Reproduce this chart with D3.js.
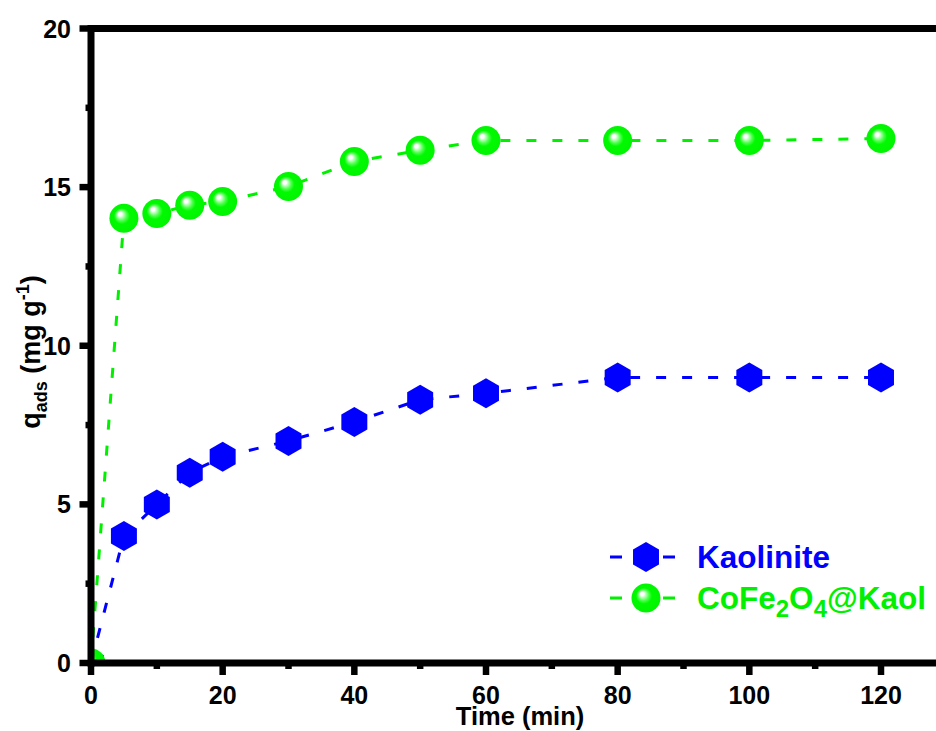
<!DOCTYPE html>
<html><head><meta charset="utf-8">
<script src="https://cdn.jsdelivr.net/npm/d3@7"></script>
<style>body{margin:0;background:#fff}svg{display:block}text{font-family:Arial,"Liberation Sans",sans-serif;font-weight:bold}</style>
</head><body><svg id="c" width="936" height="731"></svg>
<script>
const time = [0, 5, 10, 15, 20, 30, 40, 50, 60, 80, 100, 120];
const kaolinite = [0, 4.0, 5.0, 6.0, 6.5, 7.0, 7.6, 8.3, 8.5, 9.0, 9.0, 9.0];
const cofe = [0, 14.02, 14.17, 14.43, 14.55, 15.02, 15.81, 16.16, 16.47, 16.47, 16.47, 16.53];
const xTicks = [0, 20, 40, 60, 80, 100, 120];
const yTicks = [0, 5, 10, 15, 20];
const seriesNames = ["Kaolinite", "CoFe2O4@Kaol"];

const svg = d3.select("#c");
const x = d3.scaleLinear().domain([0, 130]).range([91, 91 + 130 * 790 / 120]);
const y = d3.scaleLinear().domain([0, 20]).range([663, 28.5]);

const defs = svg.append("defs");
const g = defs.append("radialGradient").attr("id", "sph").attr("cx", "50%").attr("cy", "50%").attr("r", "50%")
  .attr("fx", "35%").attr("fy", "34%");
g.append("stop").attr("offset", "0%").attr("stop-color", "#ffffff");
g.append("stop").attr("offset", "12%").attr("stop-color", "#ffffff");
g.append("stop").attr("offset", "22%").attr("stop-color", "#b8ffb8");
g.append("stop").attr("offset", "38%").attr("stop-color", "#4dff4d");
g.append("stop").attr("offset", "55%").attr("stop-color", "#00fa00");
g.append("stop").attr("offset", "100%").attr("stop-color", "#00f500");
defs.append("clipPath").attr("id", "clip").append("rect")
  .attr("x", x(0)).attr("y", y(20)).attr("width", 936 - x(0)).attr("height", y(0) - y(20));

const BLUE = "#0000ff", GREEN = "#00f000";
function hexPath(r) {
  const pts = d3.range(6).map(i => { const a = (-90 + 60 * i) * Math.PI / 180; return [r * Math.cos(a), r * Math.sin(a)]; });
  return "M" + pts.map(p => p.join(",")).join("L") + "Z";
}

const plot = svg.append("g").attr("clip-path", "url(#clip)");
const line = d3.line().x(d => x(d[0])).y(d => y(d[1]));
const kData = time.map((t, i) => [t, kaolinite[i]]);
const cData = time.map((t, i) => [t, cofe[i]]);

plot.append("path").attr("d", line(kData)).attr("fill", "none").attr("stroke", BLUE)
  .attr("stroke-width", 3).attr("stroke-dasharray", "10,16");
plot.append("path").attr("d", line(cData)).attr("fill", "none").attr("stroke", GREEN)
  .attr("stroke-width", 3).attr("stroke-dasharray", "10,16");
plot.selectAll(".hx").data(kData).enter().append("path")
  .attr("transform", d => `translate(${x(d[0])},${y(d[1])})`).attr("d", hexPath(15)).attr("fill", BLUE);
plot.selectAll(".sp").data(cData).enter().append("circle")
  .attr("cx", d => x(d[0])).attr("cy", d => y(d[1])).attr("r", 14.5).attr("fill", "url(#sph)");

// axes frame
const ax = svg.append("g");
ax.append("line").attr("x1", 88).attr("x2", 936).attr("y1", y(0)).attr("y2", y(0)).attr("stroke", "#000").attr("stroke-width", 7);
ax.append("line").attr("x1", 88).attr("x2", 936).attr("y1", y(20)).attr("y2", y(20)).attr("stroke", "#000").attr("stroke-width", 7);
ax.append("line").attr("x1", x(0)).attr("x2", x(0)).attr("y1", y(20) - 3.5).attr("y2", y(0) + 3.5).attr("stroke", "#000").attr("stroke-width", 7);

// x ticks
xTicks.forEach(t => {
  ax.append("line").attr("x1", x(t)).attr("x2", x(t)).attr("y1", y(0)).attr("y2", y(0) + 12).attr("stroke", "#000").attr("stroke-width", 6.5);
  ax.append("text").attr("x", x(t)).attr("y", 704).attr("text-anchor", "middle").attr("font-size", 25).text(t);
});
d3.range(10, 130, 20).forEach(t => {
  ax.append("line").attr("x1", x(t)).attr("x2", x(t)).attr("y1", y(0)).attr("y2", y(0) + 6).attr("stroke", "#000").attr("stroke-width", 6.5);
});
yTicks.forEach(t => {
  ax.append("line").attr("x1", x(0)).attr("x2", x(0) - 11.5).attr("y1", y(t)).attr("y2", y(t)).attr("stroke", "#000").attr("stroke-width", 6.5);
  ax.append("text").attr("x", 71).attr("y", y(t) + 9).attr("text-anchor", "end").attr("font-size", 25).text(t);
});
d3.range(2.5, 20, 5).forEach(t => {
  ax.append("line").attr("x1", x(0)).attr("x2", x(0) - 5.5).attr("y1", y(t)).attr("y2", y(t)).attr("stroke", "#000").attr("stroke-width", 6.5);
});

// axis titles
svg.append("text").attr("x", 520).attr("y", 725).attr("text-anchor", "middle").attr("font-size", 25.5).text("Time (min)");
const yt = svg.append("text").attr("transform", "translate(40,352) rotate(-90)").attr("text-anchor", "middle").attr("font-size", 27);
yt.append("tspan").text("q");
yt.append("tspan").attr("font-size", 18).attr("dy", 7).text("ads");
yt.append("tspan").attr("dy", -7).text(" (mg g");
yt.append("tspan").attr("font-size", 18).attr("dy", -11).text("-1");
yt.append("tspan").attr("dy", 11).text(")");

// legend
const leg = svg.append("g");
[[BLUE, 557, 0], [GREEN, 598, 1]].forEach(([c, ly, i]) => {
  leg.append("line").attr("x1", 610).attr("x2", 675).attr("y1", ly).attr("y2", ly).attr("stroke", c)
    .attr("stroke-width", 3).attr("stroke-dasharray", "12,41");
  if (i === 0) leg.append("path").attr("transform", `translate(646,${ly})`).attr("d", hexPath(15)).attr("fill", BLUE);
  else leg.append("circle").attr("cx", 646).attr("cy", ly).attr("r", 14.5).attr("fill", "url(#sph)");
});
leg.append("text").attr("x", 697).attr("y", 568).attr("font-size", 31.5).attr("fill", BLUE).text(seriesNames[0]);
const lt = leg.append("text").attr("x", 697).attr("y", 609).attr("font-size", 31.5).attr("fill", GREEN);
lt.append("tspan").text("CoFe");
lt.append("tspan").attr("font-size", 24).attr("dy", 8).text("2");
lt.append("tspan").attr("dy", -8).text("O");
lt.append("tspan").attr("font-size", 24).attr("dy", 8).text("4");
lt.append("tspan").attr("dy", -8).text("@Kaol");
</script></body></html>
